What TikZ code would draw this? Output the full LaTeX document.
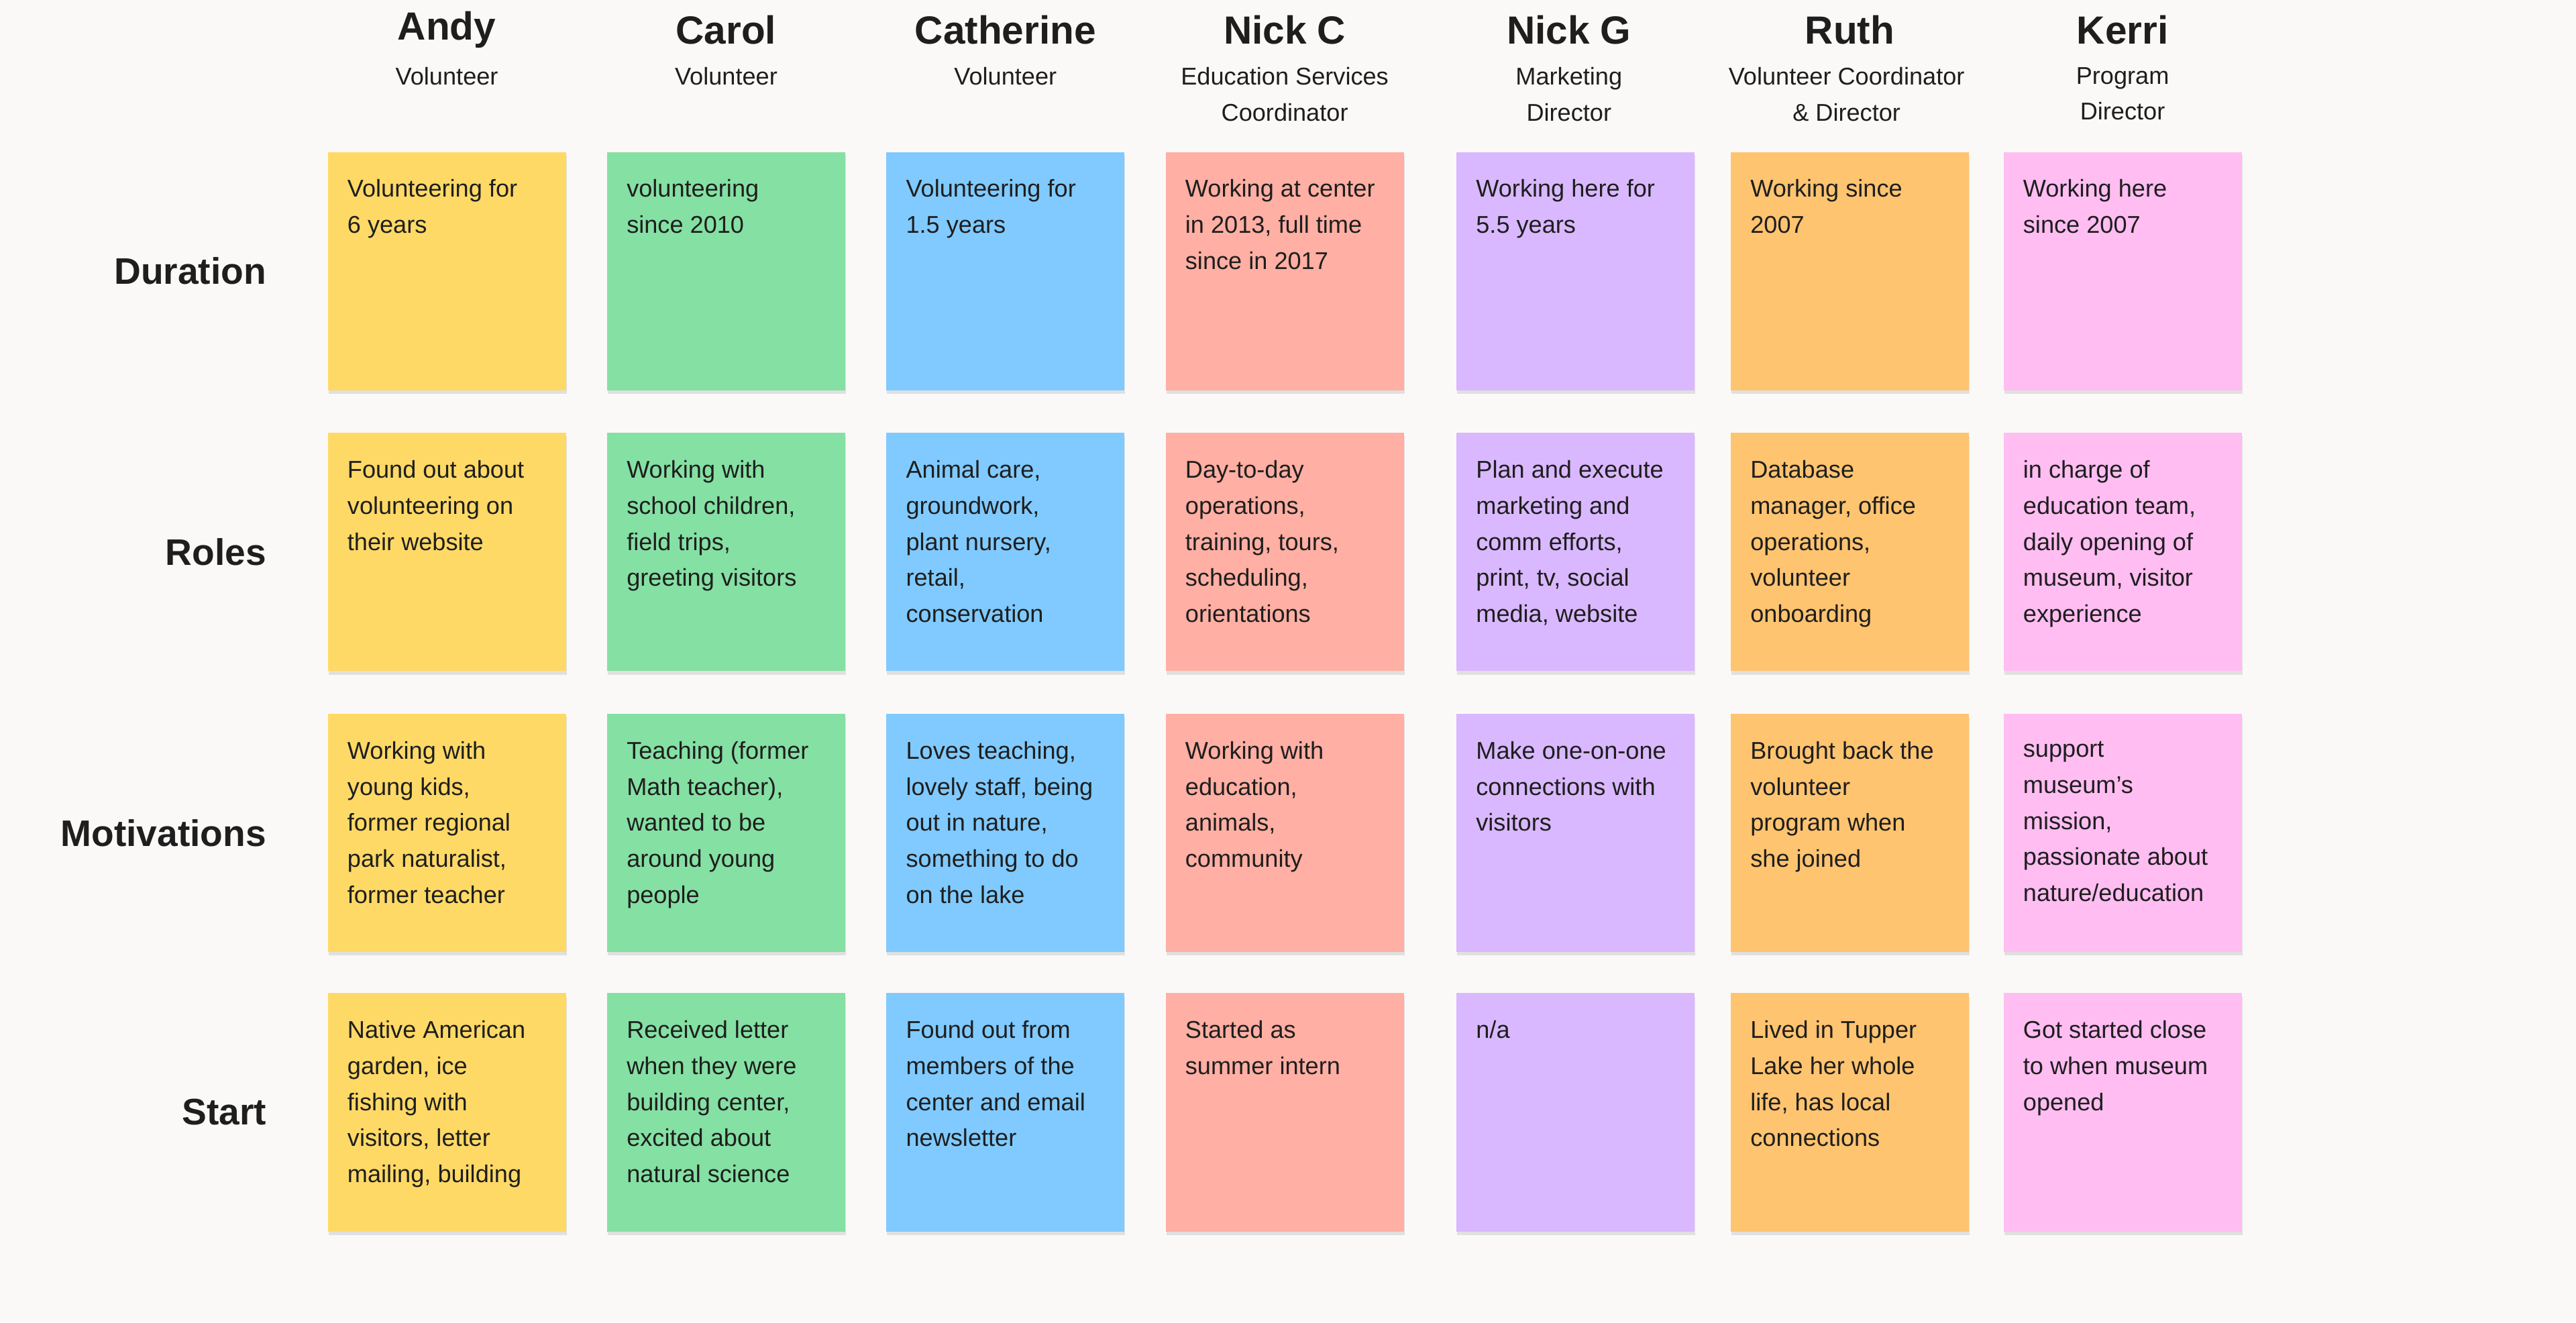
\documentclass[tikz,border=0pt]{standalone}
\usepackage{fontspec}
\setmainfont{Liberation Sans}
\usetikzlibrary{positioning}
\usepackage{xcolor}
\definecolor{bg}{HTML}{FAF9F7}
\definecolor{cYe}{HTML}{FFD966}
\definecolor{cGr}{HTML}{85E0A3}
\definecolor{cBl}{HTML}{80CAFF}
\definecolor{cSa}{HTML}{FFAFA3}
\definecolor{cPu}{HTML}{D9B8FF}
\definecolor{cOr}{HTML}{FFC470}
\definecolor{cPi}{HTML}{FFBDF2}
\definecolor{ink}{HTML}{1E1E1E}

\tikzset{
  sticky/.style={minimum width=3.625cm,minimum height=3.625cm,inner sep=0pt,
    preaction={fill=black!12,transform canvas={xshift=0.3pt,yshift=-1.5pt}}},
  notetext/.style={anchor=north west,inner sep=0pt,align=left,text=ink,
    font=\fontsize{10.5}{15.6}\selectfont},
  pname/.style={font=\fontsize{17}{20}\selectfont\bfseries,text=ink},
  prole/.style={font=\fontsize{10.5}{15.6}\selectfont,text=ink,align=center,anchor=north},
  rowlab/.style={font=\fontsize{16}{20}\selectfont\bfseries,text=ink,anchor=east}
}
\newcommand{\note}[5]{%
  \node[sticky,fill=#4] (#1) at (#2,#3) {};
  \node[notetext] (#1T) at ([xshift=0.3cm,yshift=-0.42cm]#1.north west) {#5};}

\begin{document}
\begin{tikzpicture}[x=0.025cm,y=-0.025cm]
  \fill[bg] (0,0) rectangle (1568,805);
  \useasboundingbox (0,0) rectangle (1568,805);

  % names
  \node[pname] (An) at (272,18) {Andy};
  \node[prole] (AnR) at (272,36) {Volunteer};
  \node[pname] (Ca) at (442,18) {Carol};
  \node[prole] (CaR) at (442,36) {Volunteer};
  \node[pname] (Ct) at (612,18) {Catherine};
  \node[prole] (CtR) at (612,36) {Volunteer};
  \node[pname] (NC) at (782,18) {Nick C};
  \node[prole] (NCR) at (782,36) {Education Services\\Coordinator};
  \node[pname] (NG) at (955,18) {Nick G};
  \node[prole] (NGR) at (955,36) {Marketing\\Director};
  \node[pname] (Ru) at (1126,18) {Ruth};
  \node[prole] (RuR) at (1124,36) {Volunteer Coordinator\\\& Director};
  \node[pname] (Ke) at (1292,18) {Kerri};
  \node[prole] (KeR) at (1292,36) {Program\\Director};

  % row labels
  \node[rowlab] (Du) at (167,165) {Duration};
  \node[rowlab] (Ro) at (167,336) {Roles};
  \node[rowlab] (Mo) at (167,507) {Motivations};
  \node[rowlab] (St) at (167,677) {Start};

  % duration
  \note{AnDu}{272}{165}{cYe}{Volunteering for\\6 years}
  \note{CaDu}{442}{165}{cGr}{volunteering\\since 2010}
  \note{CtDu}{612}{165}{cBl}{Volunteering for\\1.5 years}
  \note{NCDu}{782}{165}{cSa}{Working at center\\in 2013, full time\\since in 2017}
  \note{NGDu}{959}{165}{cPu}{Working here for\\5.5 years}
  \note{RuDu}{1126}{165}{cOr}{Working since\\2007}
  \note{KeDu}{1292}{165}{cPi}{Working here\\since 2007}

  % roles
  \note{AnRo}{272}{336}{cYe}{Found out about\\volunteering on\\their website}
  \note{CaRo}{442}{336}{cGr}{Working with\\school children,\\field trips,\\greeting visitors}
  \note{CtRo}{612}{336}{cBl}{Animal care,\\groundwork,\\plant nursery,\\retail,\\conservation}
  \note{NCRo}{782}{336}{cSa}{Day-to-day\\operations,\\training, tours,\\scheduling,\\orientations}
  \note{NGRo}{959}{336}{cPu}{Plan and execute\\marketing and\\comm efforts,\\print, tv, social\\media, website}
  \note{RuRo}{1126}{336}{cOr}{Database\\manager, office\\operations,\\volunteer\\onboarding}
  \note{KeRo}{1292}{336}{cPi}{in charge of\\education team,\\daily opening of\\museum, visitor\\experience}

  % motivations
  \note{AnMo}{272}{507}{cYe}{Working with\\young kids,\\former regional\\park naturalist,\\former teacher}
  \note{CaMo}{442}{507}{cGr}{Teaching (former\\Math teacher),\\wanted to be\\around young\\people}
  \note{CtMo}{612}{507}{cBl}{Loves teaching,\\lovely staff, being\\out in nature,\\something to do\\on the lake}
  \note{NCMo}{782}{507}{cSa}{Working with\\education,\\animals,\\community}
  \note{NGMo}{959}{507}{cPu}{Make one-on-one\\connections with\\visitors}
  \note{RuMo}{1126}{507}{cOr}{Brought back the\\volunteer\\program when\\she joined}
  \note{KeMo}{1292}{507}{cPi}{support\\museum’s\\mission,\\passionate about\\nature/education}

  % start
  \note{AnSt}{272}{677}{cYe}{Native American\\garden, ice\\fishing with\\visitors, letter\\mailing, building}
  \note{CaSt}{442}{677}{cGr}{Received letter\\when they were\\building center,\\excited about\\natural science}
  \note{CtSt}{612}{677}{cBl}{Found out from\\members of the\\center and email\\newsletter}
  \note{NCSt}{782}{677}{cSa}{Started as\\summer intern}
  \note{NGSt}{959}{677}{cPu}{n/a}
  \note{RuSt}{1126}{677}{cOr}{Lived in Tupper\\Lake her whole\\life, has local\\connections}
  \note{KeSt}{1292}{677}{cPi}{Got started close\\to when museum\\opened}
\end{tikzpicture}
\end{document}
